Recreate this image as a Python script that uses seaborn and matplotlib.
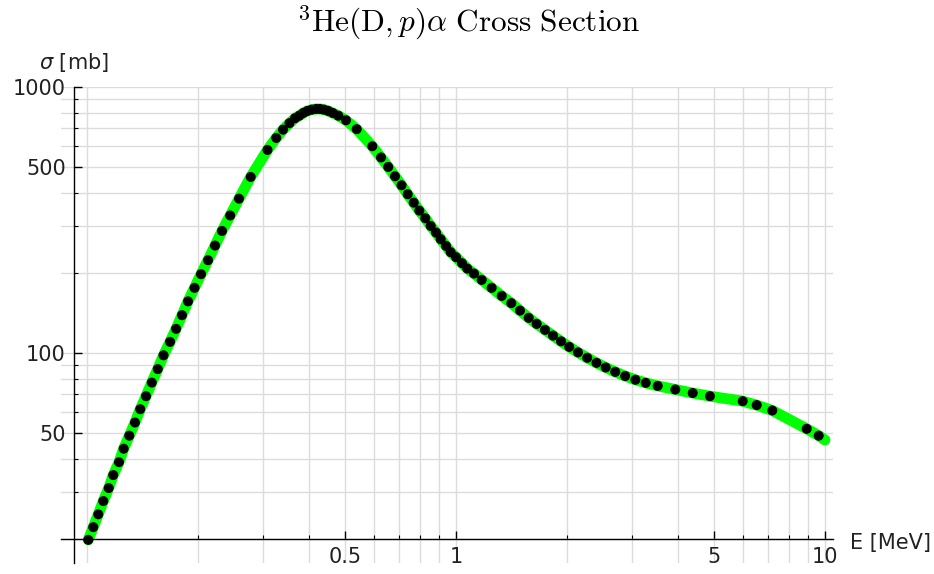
import matplotlib
matplotlib.use("Agg")
import matplotlib.pyplot as plt
import pandas as pd
import seaborn as sns
from matplotlib.ticker import FixedLocator, FixedFormatter, NullFormatter

# ---- data ----
energy_mev = [0.1008, 0.1040, 0.1073, 0.1107, 0.1145, 0.1178, 0.1221, 0.1257, 0.1302, 0.1349,
              0.1394, 0.1445, 0.1498, 0.1555, 0.1612, 0.1679, 0.1743, 0.1809, 0.1878, 0.1956,
              0.2037, 0.2128, 0.2223, 0.2322, 0.2444, 0.2582, 0.2777, 0.3084, 0.3257, 0.3398,
              0.3538, 0.3663, 0.3762, 0.3857, 0.3954, 0.4064, 0.4175, 0.4280, 0.4387, 0.4506,
              0.4632, 0.4798, 0.5033, 0.5381, 0.5931, 0.6262, 0.6551, 0.6834, 0.7117, 0.7398,
              0.7681, 0.7953, 0.8255, 0.8540, 0.8827, 0.9090, 0.9395, 0.9674, 1.000, 1.038,
              1.073, 1.119, 1.174, 1.249, 1.330, 1.412, 1.491, 1.574, 1.654, 1.743,
              1.832, 1.926, 2.027, 2.141, 2.268, 2.403, 2.545, 2.701, 2.874, 3.064,
              3.267, 3.521, 3.929, 4.380, 4.878, 5.984, 6.530, 7.197, 8.922, 9.614]
sigma_mb = [19.8, 22.1, 24.7, 27.7, 31.0, 34.7, 38.8, 43.6, 48.8, 54.7,
            61.4, 68.7, 77.3, 86.9, 97.9, 110.0, 123.1, 138.6, 156.2, 175.6,
            197.7, 223.1, 253.2, 287.4, 328.7, 380.2, 458.8, 579.8, 643.2, 691.0,
            730.9, 763.2, 780.0, 798.6, 812.5, 821.7, 826.6, 826.6, 821.7, 812.5,
            798.6, 780.0, 749.6, 694.0, 598.6, 543.3, 500.4, 461.6, 427.0, 395.0,
            367.3, 342.8, 320.9, 300.2, 283.4, 267.6, 252.5, 239.1, 229.0, 217.4,
            207.5, 198.7, 188.1, 175.6, 163.8, 153.8, 144.2, 135.4, 128.5, 122.0,
            116.1, 110.5, 105.3, 100.4, 95.8, 91.7, 88.1, 84.8, 81.8, 79.2,
            77.1, 75.1, 72.8, 70.6, 68.7, 65.8, 63.6, 60.7, 51.8, 48.8]
curve_end_energy = [10.0]
curve_end_sigma = [47.0]

x_tick_values = [0.5, 1, 5, 10]
x_tick_labels = ["0.5", "1", "5", "10"]
y_tick_values = [50, 100, 500, 1000]
y_tick_labels = ["50", "100", "500", "1000"]
x_grid_values = [0.1, 0.2, 0.3, 0.4, 0.5, 0.6, 0.7, 0.8, 0.9,
                 1, 2, 3, 4, 5, 6, 7, 8, 9, 10]
y_grid_values = [20, 30, 40, 50, 60, 70, 80, 90,
                 100, 200, 300, 400, 500, 600, 700, 800, 900, 1000]

title_text = r"$^{3}\mathrm{He}(\mathrm{D},p)\alpha\ \mathrm{Cross\ Section}$"
y_label_text = r"$\sigma$ [mb]"
x_label_text = "E [MeV]"

# ---- figure ----
sns.set_theme(style="ticks")
plt.rcParams["font.family"] = ["DejaVu Sans"]

fig = plt.figure(figsize=(9.34, 5.74), dpi=100)
ax = fig.add_axes([0.06526, 0.01916, 0.8264, 0.8293])
ax.set_xscale("log")
ax.set_yscale("log")

points = pd.DataFrame({"E": energy_mev, "sigma": sigma_mb})
curve = pd.DataFrame({"E": energy_mev + curve_end_energy,
                      "sigma": sigma_mb + curve_end_sigma})

sns.lineplot(data=curve, x="E", y="sigma", ax=ax, color="#00ff00",
             linewidth=7.8, sort=False, estimator=None, zorder=2)
sns.scatterplot(data=points, x="E", y="sigma", ax=ax, color="black",
                s=52, edgecolor="none", linewidth=0, zorder=3)

ax.set_xlim(0.085, 10.5)
ax.set_ylim(16.2, 1000)

minor_x = [v for v in x_grid_values if v not in x_tick_values]
minor_y = [v for v in y_grid_values if v not in y_tick_values]
ax.xaxis.set_major_locator(FixedLocator(x_tick_values))
ax.xaxis.set_major_formatter(FixedFormatter(x_tick_labels))
ax.xaxis.set_minor_locator(FixedLocator(minor_x))
ax.xaxis.set_minor_formatter(NullFormatter())
ax.yaxis.set_major_locator(FixedLocator(y_tick_values))
ax.yaxis.set_major_formatter(FixedFormatter(y_tick_labels))
ax.yaxis.set_minor_locator(FixedLocator(minor_y))
ax.yaxis.set_minor_formatter(NullFormatter())

ax.grid(True, which="both", color="#dcdcdc", linewidth=1.0)
ax.set_axisbelow(True)

for s in ["top", "right"]:
    ax.spines[s].set_visible(False)
ax.spines["left"].set_position(("data", 0.0922))
ax.spines["bottom"].set_position(("data", 20))
for s in ["left", "bottom"]:
    ax.spines[s].set_color("black")
    ax.spines[s].set_linewidth(1.0)

ax.tick_params(which="major", direction="in", length=6, width=1.0,
               colors="black", labelcolor="#222222", labelsize=15, pad=6)
ax.tick_params(which="minor", direction="in", length=3, width=0.8,
               colors="black")
ax.set_xlabel("")
ax.set_ylabel("")

fig.text(0.502, 1 - 23 / 574, title_text, ha="center", va="center",
         fontsize=22.5, math_fontfamily="cm", color="black")
fig.text(74 / 934, 1 - 62 / 574, y_label_text, ha="center", va="center",
         fontsize=15, math_fontfamily="dejavusans", color="#222222")
fig.text(850 / 934, 1 - 543 / 574, x_label_text, ha="left", va="center",
         fontsize=15, color="#222222")

fig.savefig("out.png", dpi=100)
